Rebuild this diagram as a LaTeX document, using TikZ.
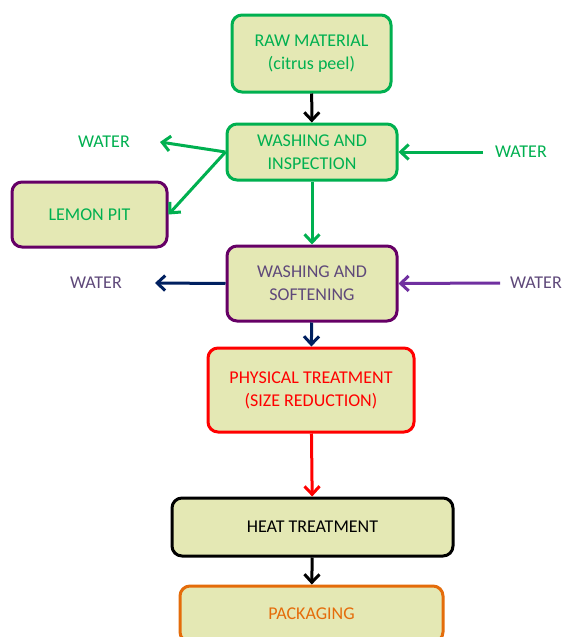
\documentclass[tikz,border=0pt]{standalone}
\usepackage{fontspec}
\setmainfont{Carlito}
\usetikzlibrary{arrows.meta}
\definecolor{boxfill}{HTML}{E4E8B4}
\definecolor{leafgreen}{HTML}{00B050}
\definecolor{plum}{HTML}{660066}
\definecolor{dusk}{HTML}{5F497A}
\definecolor{navy}{HTML}{002060}
\definecolor{violet}{HTML}{7030A0}
\definecolor{pumpkin}{HTML}{E46C0A}
\tikzset{
  stage/.style={draw, line width=3pt, rounded corners=10pt, fill=boxfill,
    align=center, inner sep=0pt, font=\fontsize{18}{23}\selectfont},
  note/.style={font=\fontsize{18}{23}\selectfont, inner sep=0pt},
  flow/.style={line width=3pt, -{Straight Barb[length=8pt,width=15pt,line width=3pt]}},
}
\begin{document}
\begin{tikzpicture}[x=1pt, y=-1pt]
   \clip (0,0) rectangle (564,637);
   \fill[white] (0,0) rectangle (564,637);
   % process boxes
   \node[stage, draw=leafgreen, text=leafgreen, minimum width=159, minimum height=77]
     (raw) at (311.5,53.5) {RAW MATERIAL\\(citrus peel)};
   \node[stage, draw=leafgreen, text=leafgreen, minimum width=170, minimum height=56]
     (wi) at (312,152) {WASHING AND\\INSPECTION};
   \node[stage, draw=plum, text=leafgreen, minimum width=155, minimum height=65]
     (lemon) at (89.5,214.5) {LEMON PIT};
   \node[stage, draw=plum, text=dusk, minimum width=170, minimum height=75]
     (ws) at (312,283.5) {WASHING AND\\SOFTENING};
   \node[stage, draw=red, text=red, minimum width=206, minimum height=84]
     (phys) at (311,390) {PHYSICAL TREATMENT\\(SIZE REDUCTION)};
   \node[stage, draw=black, text=black, minimum width=281, minimum height=58]
     (heat) at (312.5,527) {HEAT TREATMENT};
   \node[stage, draw=pumpkin, text=pumpkin, minimum width=263, minimum height=56]
     (pack) at (311.5,614) {PACKAGING};
   % water labels
   \foreach \n/\x/\y/\c in {wa/104/142/leafgreen, wb/521/152/leafgreen,
                            wc/96/283/dusk, wd/536/283/dusk}
     \node[note, text=\c] (\n) at (\x,\y) {WATER};
   \coordinate (waout) at (160,142);
   \coordinate (wbin) at (483,152);
   \coordinate (wcout) at (155,283);
   \coordinate (wdin) at (500,283);
   % connectors
   \draw[flow] (raw) -- (wi);
   \draw[flow, leafgreen] (wi.west) -- (waout);
   \draw[flow, leafgreen] (wi.west) -- (lemon.east);
   \draw[flow, leafgreen] (wbin) -- (wi.east);
   \draw[flow, leafgreen] (wi) -- (ws);
   \draw[flow, navy] (ws.west) -- (wcout);
   \draw[flow, violet] (wdin) -- (ws.east);
   \draw[flow, navy] (ws) -- (phys);
   \draw[flow, red] (phys) -- (heat);
   \draw[flow] (heat) -- (pack);
\end{tikzpicture}
\end{document}
